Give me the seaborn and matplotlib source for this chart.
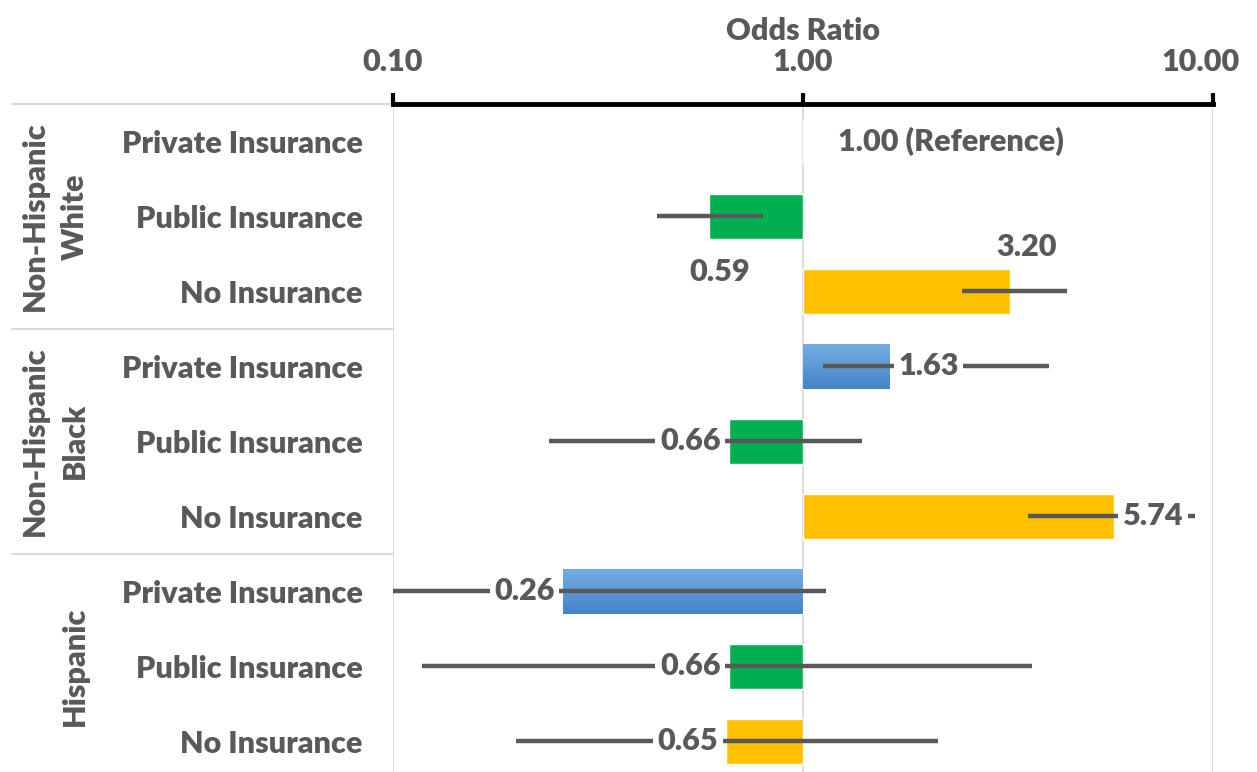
import numpy as np
import pandas as pd
import matplotlib
matplotlib.use("Agg")
import matplotlib.pyplot as plt
from matplotlib.colors import LinearSegmentedColormap, to_hex
from matplotlib.ticker import FixedLocator, FuncFormatter
from matplotlib.transforms import blended_transform_factory, ScaledTranslation
import seaborn as sns

# ---- data -------------------------------------------------------------
groups = ["Non-Hispanic\nWhite", "Non-Hispanic\nBlack", "Hispanic"]
insurance = ["Private Insurance", "Public Insurance", "No Insurance"]
odds = [1.00, 0.59, 3.20,
        1.63, 0.66, 5.74,
        0.26, 0.66, 0.65]
ci_low = [1.00, 0.44, 2.44,
          1.12, 0.24, 3.54,
          0.10, 0.118, 0.20]
ci_high = [1.00, 0.80, 4.40,
           3.98, 1.39, 9.04,
           1.14, 3.62, 2.13]
value_labels = ["1.00 (Reference)", "0.59", "3.20",
                "1.63", "0.66", "5.74",
                "0.26", "0.66", "0.65"]
x_ticks = [0.10, 1.00, 10.00]

palette = {"Private Insurance": "#5B9BD5",
           "Public Insurance": "#00B050",
           "No Insurance": "#FFC000"}
blue_grad = LinearSegmentedColormap.from_list("blue_grad", ["#4484C7", "#74ADE2"])
TEXT = "#595959"
GRID = "#D9D9D9"
FS = 22
WEIGHT = "heavy"

rows = [f"{g}|{ins}" for g in groups for ins in insurance]
df = pd.DataFrame({
    "row": rows,
    "insurance": [ins for _ in groups for ins in insurance],
    "log_or": np.log10(odds),
})

# ---- figure -----------------------------------------------------------
sns.set_theme(style="white")
plt.rcParams["font.family"] = ["Lato", "DejaVu Sans"]
plt.rcParams["font.weight"] = WEIGHT

W, H = 1257, 772
fig = plt.figure(figsize=(W / 100, H / 100), dpi=100)
ax = fig.add_axes([393 / W, 0, 820 / W, 1 - 104 / H])

sns.barplot(data=df, y="row", x="log_or", hue="insurance", palette=palette,
            order=rows, hue_order=insurance, dodge=False, width=0.6,
            saturation=1, orient="h", legend=False, ax=ax, zorder=2)

ax.set_xlim(np.log10(x_ticks[0]), np.log10(x_ticks[-1]))
ax.set_ylim(8.41, -0.5)

# vertical gradient fill on the blue bars
grad = np.linspace(0, 1, 64).reshape(-1, 1)
for p in list(ax.patches):
    if to_hex(p.get_facecolor()).lower() == palette["Private Insurance"].lower() \
            and p.get_width() != 0:
        x0, y0 = p.get_x(), p.get_y()
        x1, y1 = x0 + p.get_width(), y0 + p.get_height()
        im = ax.imshow(grad, cmap=blue_grad, aspect="auto", origin="lower",
                       extent=(min(x0, x1), max(x0, x1), max(y0, y1), min(y0, y1)),
                       zorder=2.1)
        im.set_clip_path(p)
ax.set_xlim(np.log10(x_ticks[0]), np.log10(x_ticks[-1]))
ax.set_ylim(8.41, -0.5)

# confidence intervals
ax.hlines(np.arange(len(rows)), np.log10(ci_low), np.log10(ci_high),
          color=TEXT, lw=3.2, zorder=3, capstyle="butt")

# top axis
ax.xaxis.set_ticks_position("top")
ax.xaxis.set_label_position("top")
ax.xaxis.set_major_locator(FixedLocator(np.log10(x_ticks)))
ax.xaxis.set_major_formatter(FuncFormatter(lambda v, p: f"{10 ** v:.2f}"))
ax.tick_params(axis="x", direction="out", length=8, width=3, color="black",
               labelsize=FS, labelcolor=TEXT, pad=12)
ax.set_xlabel("Odds Ratio", fontsize=FS, color=TEXT, fontweight=WEIGHT,
              labelpad=6)
for s in ["left", "right", "bottom"]:
    ax.spines[s].set_visible(False)
ax.spines["top"].set_linewidth(3.5)
ax.spines["top"].set_color("black")
ax.grid(axis="x", color=GRID, lw=1.3, zorder=0)
ax.set_axisbelow(True)

# keep the right-most tick label inside the canvas
last_tick = ax.xaxis.get_major_ticks()[-1]
last_tick.label2.set_transform(last_tick.label2.get_transform()
                               + ScaledTranslation(-12 / 100, 0, fig.dpi_scale_trans))

# category labels
ax.set_yticks(range(len(rows)))
ax.set_yticklabels([ins for _ in groups for ins in insurance])
ax.tick_params(axis="y", length=0, labelsize=FS, labelcolor=TEXT, pad=22)
ax.set_ylabel("")

trans = blended_transform_factory(ax.transAxes, ax.transData)
sep_x0 = (12 - 393) / 820
for yb in [-0.5, 2.5, 5.5]:
    ax.plot([sep_x0, 0], [yb, yb], transform=trans, color=GRID, lw=1.5,
            clip_on=False, zorder=1)

# group labels (rotated)
group_x = [(35 - 393) / 820, (75 - 393) / 820]
for gi, g in enumerate(groups):
    lines = g.split("\n")
    yc = gi * 3 + 1
    xs = group_x if len(lines) == 2 else group_x[1:]
    for gx, line in zip(xs, lines):
        ax.text(gx, yc, line, transform=trans, rotation=90,
                ha="center", va="center", fontsize=FS, color=TEXT,
                fontweight=WEIGHT)

# value labels
box = dict(boxstyle="square,pad=0.15", fc="white", ec="none")
lab_kw = dict(fontsize=FS, color=TEXT, fontweight=WEIGHT, zorder=4,
              textcoords="offset points")
for i, (v, lab) in enumerate(zip(odds, value_labels)):
    lv = np.log10(v)
    if i == 0:
        ax.annotate(lab, (lv, i), xytext=(25, 0), ha="left", va="center",
                    **lab_kw)
    elif i == 1:
        ax.annotate(lab, (lv, i), xytext=(8, -40), ha="center", va="center",
                    **lab_kw)
    elif i == 2:
        ax.annotate(lab, (lv, i), xytext=(12, 32), ha="center", va="center",
                    **lab_kw)
    elif v > 1:
        ax.annotate(lab, (lv, i), xytext=(6, 0), ha="left", va="center",
                    bbox=box, **lab_kw)
    else:
        ax.annotate(lab, (lv, i), xytext=(-6, 0), ha="right", va="center",
                    bbox=box, **lab_kw)

fig.savefig("out.png", dpi=100)
